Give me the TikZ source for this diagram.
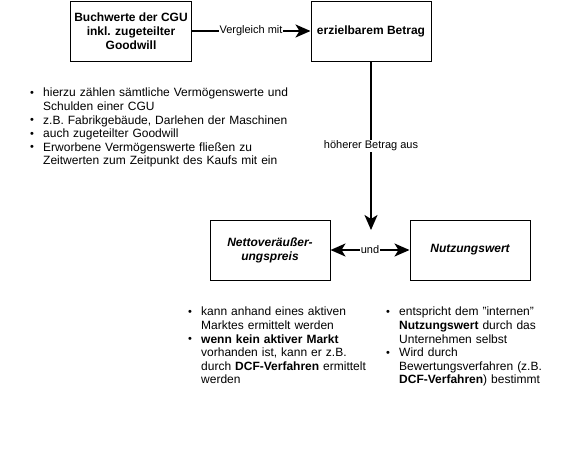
\documentclass[tikz,border=0pt]{standalone}
\usepackage{fontspec}
\setmainfont{Liberation Sans}
\usetikzlibrary{arrows.meta}
\tikzset{%
	block/.style    = {draw, line width=1pt, rectangle, minimum height = 60pt,
		minimum width = 120pt, align=center, font=\fontsize{12}{14}\selectfont\bfseries},
	conn/.style     = {line width=2pt, -{Stealth[length=15pt,width=13pt,inset=4pt]}}, % Connector
	edgelabel/.style = {fill=white, inner sep=1pt, font=\fontsize{11}{13}\selectfont}, % Label
	notes/.style    = {inner sep=0pt, anchor=north west, align=left, text width=290pt,
		font=\fontsize{12}{13.6}\selectfont} % Bullet list
}
\newcommand{\bitem}{\par\hangindent=13pt\hangafter=1\noindent\makebox[13pt][l]{\raisebox{0.3pt}{\fontsize{11}{11}\selectfont\textbullet}}}

\begin{document}
\begin{tikzpicture}[x=1pt,y=-1pt]
			\useasboundingbox (0,0) rectangle (567,456);
			\node[block] (buch) at (131,31) {Buchwerte der CGU\\inkl. zugeteilter\\Goodwill} ;
			\node[block] (betrag) at (371,31) {erzielbarem Betrag} ;
			\node[block,font=\fontsize{12}{14}\selectfont\bfseries\itshape] (netto) at (270,250) {Nettoveräußer-\\ungspreis} ;
			\node[block,font=\fontsize{12}{14}\selectfont\bfseries\itshape] (nutzung) at (470,250) {Nutzungswert} ;
			\node[edgelabel] (und) at (370,250) {und};
			\coordinate (split) at (371,230);
			
			\draw[conn] (buch) -- node[edgelabel] {Vergleich mit} (betrag);
			\draw[conn] (betrag) -- node[edgelabel] {höherer Betrag aus} (split);
			\draw[conn] (und) -- (netto);
			\draw[conn] (und) -- (nutzung);

			% lists
			\node[notes] (listbuch) at (30,83) {%
				\bitem hierzu zählen sämtliche Vermögenswerte und\newline Schulden einer CGU
				\bitem z.B. Fabrikgebäude, Darlehen der Maschinen
				\bitem auch zugeteilter Goodwill
				\bitem Erworbene Vermögenswerte fließen zu\newline Zeitwerten zum Zeitpunkt des Kaufs mit ein\par};
			\node[notes,text width=190pt] (listnetto) at (188,302) {%
				\bitem kann anhand eines aktiven\newline Marktes ermittelt werden
				\bitem \textbf{wenn kein aktiver Markt}\newline vorhanden ist, kann er z.B.\newline durch \textbf{DCF-Verfahren} ermittelt\newline werden\par};
			\node[notes,text width=175pt] (listnutzung) at (386,302) {%
				\bitem entspricht dem "internen"\newline\textbf{Nutzungswert} durch das\newline Unternehmen selbst
				\bitem Wird durch\newline Bewertungsverfahren (z.B.\newline\textbf{DCF-Verfahren}) bestimmt\par};
		\end{tikzpicture}
\end{document}
